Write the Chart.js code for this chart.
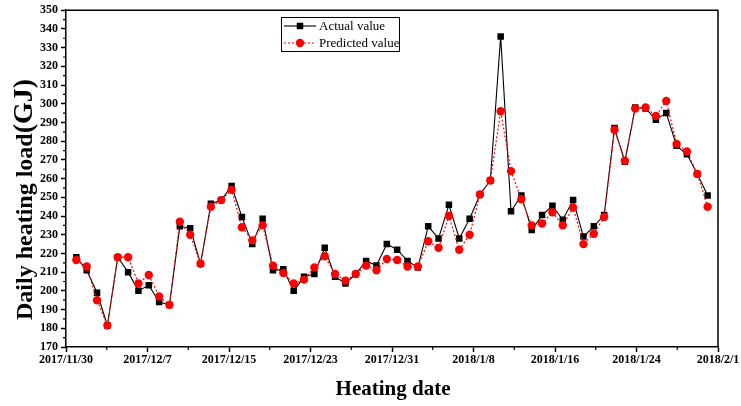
<!DOCTYPE html>
<html>
<head>
<meta charset="utf-8">
<script src="https://cdn.jsdelivr.net/npm/chart.js@4.4.1/dist/chart.umd.min.js"></script>
<style>
html,body{margin:0;padding:0;background:#fff;}
#wrap{width:741px;height:406px;position:relative;}
</style>
</head>
<body>
<div id="wrap"><canvas id="c" width="741" height="406"></canvas></div>
<script>
// ---- data ----
const startDate = '2017/11/30';
const dates = [
 '2017/12/1','2017/12/2','2017/12/3','2017/12/4','2017/12/5','2017/12/6','2017/12/7','2017/12/8','2017/12/9','2017/12/10',
 '2017/12/11','2017/12/12','2017/12/13','2017/12/14','2017/12/15','2017/12/16','2017/12/17','2017/12/18','2017/12/19','2017/12/20',
 '2017/12/21','2017/12/22','2017/12/23','2017/12/24','2017/12/25','2017/12/26','2017/12/27','2017/12/28','2017/12/29','2017/12/30',
 '2017/12/31','2018/1/1','2018/1/2','2018/1/3','2018/1/4','2018/1/5','2018/1/6','2018/1/7','2018/1/8','2018/1/9',
 '2018/1/10','2018/1/11','2018/1/12','2018/1/13','2018/1/14','2018/1/15','2018/1/16','2018/1/17','2018/1/18','2018/1/19',
 '2018/1/20','2018/1/21','2018/1/22','2018/1/23','2018/1/24','2018/1/25','2018/1/26','2018/1/27','2018/1/28','2018/1/29',
 '2018/1/30','2018/1/31'
];
const actualValues = [
 218,211,199,181.5,218,210,200,203,194,192.5,
 234.5,233.5,214.5,246.5,248.5,256,239.5,225,238.5,211,
 211.5,200,207.5,209,223,207.5,204,209,216,213.5,
 225,222,216,212.5,234.5,228,246,228,238.5,251.5,
 259,336,242.5,251,232.5,240.5,245.5,238,248.5,229,
 234.5,240.5,287,269,298,297.5,291.5,295,277.5,273,
 262.5,251
];
const predictedValues = [
 216.5,213,195,181.5,218,218,204,208.5,197,192.5,
 237,230,214.5,245,248.5,254,234,227,235,213.5,
 209.5,204,206,212.5,218.5,209,205.5,209,213.5,211,
 217,216.5,213,213,226.5,223,240,222,230,251.5,
 259,296,264,249,235,236,242,235,244.5,225,
 230.5,239.5,286,269.5,297.5,298,293.5,301.5,278.5,274.5,
 262.5,245
];
const xTickLabels = ['2017/11/30','2017/12/7','2017/12/15','2017/12/23','2017/12/31','2018/1/8','2018/1/16','2018/1/24','2018/2/1'];
const seriesNames = ['Actual value','Predicted value'];
const xTitle = 'Heating date';
const yTitleMain = 'Daily heating load';
const yTitleUnit = '(GJ)';

// ---- helpers ----
function dayOffset(s){
  const p = s.split('/').map(Number), q = startDate.split('/').map(Number);
  return Math.round((Date.UTC(p[0],p[1]-1,p[2]) - Date.UTC(q[0],q[1]-1,q[2]))/864e5);
}
const spanDays = dayOffset('2018/2/1');
const xTickVals = xTickLabels.map((_,i)=> i*spanDays/(xTickLabels.length-1));
const FONT = '"Liberation Serif", "Times New Roman", serif';

const actualPts = dates.map((d,i)=>({x:dayOffset(d), y:actualValues[i]}));
const predPts = dates.map((d,i)=>({x:dayOffset(d), y:predictedValues[i]}));

const decoPlugin = {
  id:'deco',
  afterDraw(chart){
    const ctx = chart.ctx, a = chart.chartArea;
    const xs = chart.scales.x, ys = chart.scales.y;
    ctx.save();
    // frame top/right
    ctx.strokeStyle = '#000'; ctx.lineWidth = 1.5;
    ctx.beginPath();
    ctx.moveTo(a.left, a.top); ctx.lineTo(a.right, a.top); ctx.lineTo(a.right, a.bottom);
    ctx.stroke();
    // minor ticks
    ctx.lineWidth = 1.2;
    ctx.beginPath();
    for (let i=0;i<xTickVals.length-1;i++){
      const px = xs.getPixelForValue((xTickVals[i]+xTickVals[i+1])/2);
      ctx.moveTo(px, a.bottom); ctx.lineTo(px, a.bottom+3);
    }
    for (let v=175; v<350; v+=10){
      const py = ys.getPixelForValue(v);
      ctx.moveTo(a.left, py); ctx.lineTo(a.left-3, py);
    }
    ctx.stroke();
    // x title
    ctx.fillStyle = '#000';
    ctx.font = 'bold 21px ' + FONT;
    ctx.textAlign = 'center'; ctx.textBaseline = 'alphabetic';
    ctx.fillText(xTitle, 393, 395);
    // y title
    ctx.save();
    ctx.translate(32, 320);
    ctx.rotate(-Math.PI/2);
    ctx.textAlign = 'left';
    ctx.font = 'bold 24px ' + FONT;
    ctx.fillText(yTitleMain, 0, 0);
    const w = ctx.measureText(yTitleMain).width;
    ctx.font = 'bold 28px ' + FONT;
    ctx.fillText(yTitleUnit, w, 0);
    ctx.restore();
    // legend
    const lx = 281, ly = 17, lw = 118, lh = 34;
    ctx.fillStyle = '#fff';
    ctx.fillRect(lx, ly, lw, lh);
    ctx.strokeStyle = '#000'; ctx.lineWidth = 1;
    ctx.strokeRect(lx+0.5, ly+0.5, lw, lh);
    const rows = [ {y:26, ds:chart.data.datasets[1]}, {y:43, ds:chart.data.datasets[0]} ];
    rows.forEach(r=>{
      const ds = r.ds;
      ctx.strokeStyle = ds.borderColor; ctx.lineWidth = ds.borderWidth;
      ctx.setLineDash(ds.borderDash || []);
      ctx.beginPath(); ctx.moveTo(284, r.y); ctx.lineTo(316, r.y); ctx.stroke();
      ctx.setLineDash([]);
      ctx.fillStyle = ds.pointBackgroundColor;
      if (ds.pointStyle === 'rect'){
        const s = ds.pointRadius*Math.SQRT2;
        ctx.fillRect(300 - s/2, r.y - s/2, s, s);
      } else {
        ctx.beginPath(); ctx.arc(300, r.y, ds.pointRadius, 0, Math.PI*2); ctx.fill();
      }
      ctx.fillStyle = '#000';
      ctx.font = '13px ' + FONT;
      ctx.textAlign = 'left'; ctx.textBaseline = 'middle';
      ctx.fillText(ds.label, 319, r.y+1);
    });
    ctx.restore();
  }
};

new Chart(document.getElementById('c'), {
  type:'line',
  data:{
    datasets:[
      { label:seriesNames[1], data:predPts, order:0,
        borderColor:'#ff0000', borderWidth:1.2, borderDash:[2,2],
        pointStyle:'circle', pointRadius:4.2, pointBackgroundColor:'#ff0000', pointBorderColor:'#ff0000', pointBorderWidth:0,
        tension:0 },
      { label:seriesNames[0], data:actualPts, order:1,
        borderColor:'#000000', borderWidth:1.1,
        pointStyle:'rect', pointRadius:4.6, pointBackgroundColor:'#000000', pointBorderColor:'#000000', pointBorderWidth:0,
        tension:0 }
    ]
  },
  options:{
    responsive:false, animation:false,
    devicePixelRatio:1,
    layout:{padding:{top:6,right:23,left:0,bottom:0}},
    plugins:{legend:{display:false}, tooltip:{enabled:false}},
    scales:{
      x:{
        type:'linear', min:0, max:spanDays,
        afterBuildTicks(s){ s.ticks = xTickVals.map(v=>({value:v})); },
        afterFit(s){ s.height = 59; },
        ticks:{ autoSkip:false, maxRotation:0, minRotation:0, padding:1, color:'#000',
          font:{family:FONT, size:12, weight:'bold'},
          callback:(v,i)=> xTickLabels[i] },
        grid:{ drawOnChartArea:false, drawTicks:true, tickLength:5, tickColor:'#000', tickWidth:1.5 },
        border:{ display:true, color:'#000', width:1.5 }
      },
      y:{
        type:'linear', min:170, max:350,
        afterFit(s){ s.width = 66; },
        ticks:{ stepSize:10, padding:3, color:'#000', font:{family:FONT, size:12, weight:'bold'} },
        grid:{ drawOnChartArea:false, drawTicks:true, tickLength:5, tickColor:'#000', tickWidth:1.5 },
        border:{ display:true, color:'#000', width:1.5 }
      }
    }
  },
  plugins:[decoPlugin]
});
</script>
</body>
</html>
